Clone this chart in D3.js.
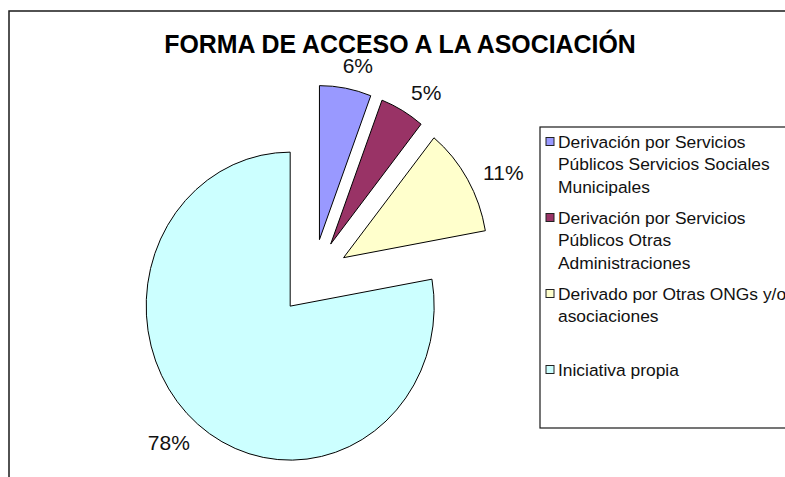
<!DOCTYPE html>
<html>
<head>
<meta charset="utf-8">
<script src="https://cdn.jsdelivr.net/npm/d3@7"></script>
<style>
  html, body { margin: 0; padding: 0; background: #fff; }
  svg { display: block; }
</style>
</head>
<body>
<svg id="chart" width="785" height="477"></svg>
<script>
// ---- data ----
const title = "FORMA DE ACCESO A LA ASOCIACIÓN";
const categories = [
  "Derivación por Servicios Públicos Servicios Sociales Municipales",
  "Derivación por Servicios Públicos Otras Administraciones",
  "Derivado por Otras ONGs y/o asociaciones",
  "Iniciativa propia"
];
const legendLines = [
  ["Derivación por Servicios", "Públicos Servicios Sociales", "Municipales"],
  ["Derivación por Servicios", "Públicos Otras", "Administraciones"],
  ["Derivado por Otras ONGs y/o", "asociaciones"],
  ["Iniciativa propia"]
];
const values = [5.8, 5.0, 11.4, 77.8];
const colors = ["#9999FF", "#993366", "#FFFFCC", "#CCFFFF"];

// ---- layout ----
const svg = d3.select("#chart");
const cx = 313, cy = 277;
const radius = 154, sx = 0.935;
const explode = 38;
const labelR = 218;
const labelTurn = 0.025; // small angular nudge of the label placement (radians)

// frame (clipped at right/bottom)
svg.append("rect")
  .attr("x", 9).attr("y", 11)
  .attr("width", 900).attr("height", 600)
  .attr("fill", "none").attr("stroke", "#1a1a1a").attr("stroke-width", 1.5);

// title
svg.append("text")
  .attr("x", 400).attr("y", 53)
  .attr("text-anchor", "middle")
  .attr("font-family", "Liberation Sans, Arial, sans-serif")
  .attr("font-weight", "bold")
  .attr("font-size", 24.9)
  .attr("fill", "#000")
  .text(title);

const pie = d3.pie().sort(null).value(d => d).startAngle(0).endAngle(2 * Math.PI);
const arcs = pie(values);
const arc = d3.arc().innerRadius(0).outerRadius(radius);
const total = d3.sum(values);

const g = svg.append("g").attr("transform", `translate(${cx},${cy}) scale(${sx},1)`);
g.selectAll("path")
  .data(arcs)
  .join("path")
  .attr("d", arc)
  .attr("transform", d => {
    const a = (d.startAngle + d.endAngle) / 2;
    return `translate(${explode * Math.sin(a)},${-explode * Math.cos(a)})`;
  })
  .attr("fill", (d, i) => colors[i])
  .attr("stroke", "#000")
  .attr("stroke-width", 1)
  .attr("vector-effect", "non-scaling-stroke")
  .attr("stroke-linejoin", "miter");

// percentage labels
const midA = d => (d.startAngle + d.endAngle) / 2 + labelTurn;
svg.selectAll("text.pct")
  .data(arcs)
  .join("text")
  .attr("class", "pct")
  .attr("x", d => cx + labelR * Math.sin(midA(d)))
  .attr("y", d => cy - labelR * Math.cos(midA(d)) + 1.5)
  .attr("dy", "0.36em")
  .attr("text-anchor", "middle")
  .attr("font-family", "Liberation Sans, Arial, sans-serif")
  .attr("font-size", 21)
  .attr("fill", "#111")
  .text(d => Math.round(d.value / total * 100) + "%");

// legend
const lg = svg.append("g");
lg.append("rect")
  .attr("x", 540).attr("y", 127)
  .attr("width", 400).attr("height", 301)
  .attr("fill", "#fff").attr("stroke", "#1a1a1a").attr("stroke-width", 1.2);

const itemY = d3.scaleLinear().domain([0, 1]).range([147.5, 223.5]);
const lineH = 22.5;
const items = lg.selectAll("g.item")
  .data(categories)
  .join("g")
  .attr("class", "item")
  .attr("transform", (d, i) => `translate(0,${itemY(i)})`);
items.append("rect")
  .attr("x", 546).attr("y", -10)
  .attr("width", 8).attr("height", 8)
  .attr("fill", (d, i) => colors[i])
  .attr("stroke", "#222").attr("stroke-width", 1);
items.append("text")
  .attr("font-family", "Liberation Sans, Arial, sans-serif")
  .attr("font-size", 17.4)
  .attr("fill", "#111")
  .selectAll("tspan")
  .data((d, i) => legendLines[i])
  .join("tspan")
  .attr("x", 558)
  .attr("y", (d, j) => j * lineH)
  .text(d => d);
</script>
</body>
</html>
